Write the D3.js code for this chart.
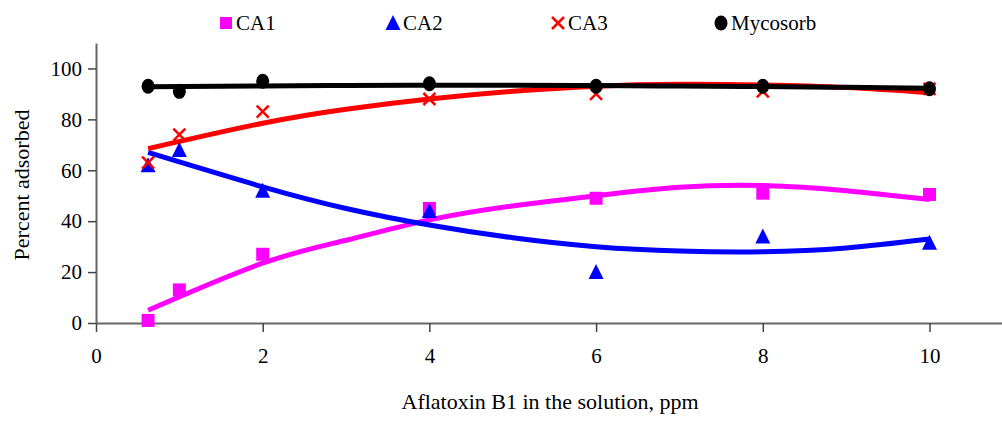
<!DOCTYPE html>
<html>
<head>
<meta charset="utf-8">
<script src="https://cdn.jsdelivr.net/npm/d3@7"></script>
<style>
  body { margin: 0; background: #fff; }
</style>
</head>
<body>
<div id="chart-area"></div>
<script>
const WIDTH = 1002
const HEIGHT = 423
const MARGIN = {LEFT: 96, RIGHT: 0, TOP: 43, BOTTOM: 100}
const FONT = "'Liberation Serif', 'Times New Roman', Times, 'DejaVu Serif', serif"

// measured points
const doses = [0.625, 1, 2, 4, 6, 8, 10]
const ca1 = [1, 13, 27, 45, 49, 51, 50.5]
const ca2 = [62, 68, 52, 44, 20, 34, 31.5]
const ca3 = [63, 74, 83, 88, 90, 91, 92]
const mycosorb = [93, 91, 95, 94, 93, 93, 92]

// trend lines
const trendX = [0.625, 2, 3, 4, 5, 6, 7, 8, 9, 10]
const ca1Trend = [5, 23.5, 32.5, 40.5, 46, 50, 53.3, 54, 52, 48.5]
const ca2Trend = [67, 53.5, 45, 38.5, 33.5, 30, 28.3, 28, 29.5, 33]
const ca3Trend = [68.5, 78.5, 84, 88, 91, 93, 93.8, 93.5, 92.5, 90.5]
const mycoTrend = [92.8, 93.1, 93.3, 93.4, 93.4, 93.3, 93.1, 92.9, 92.6, 92.2]

const xTicks = [0, 2, 4, 6, 8, 10]
const yTicks = [0, 20, 40, 60, 80, 100]

const series = [
  {name: "CA1", values: ca1, trend: ca1Trend, color: "#ff00ff", shape: "square"},
  {name: "CA2", values: ca2, trend: ca2Trend, color: "#0000ff", shape: "triangle"},
  {name: "CA3", values: ca3, trend: ca3Trend, color: "#ff0000", shape: "cross"},
  {name: "Mycosorb", values: mycosorb, trend: mycoTrend, color: "#000000", shape: "circle"}
]

const svg = d3.select("#chart-area").append("svg")
  .attr("width", WIDTH)
  .attr("height", HEIGHT)
  .style("font-family", FONT)

const x = d3.scaleLinear()
  .domain([0, 10.87])
  .range([MARGIN.LEFT, WIDTH])

const y = d3.scaleLinear()
  .domain([0, 110])
  .range([323, MARGIN.TOP])

// axes
const xAxisCall = d3.axisBottom(x).tickValues(xTicks).tickSize(9).tickPadding(16).tickSizeOuter(0)
svg.append("g")
  .attr("transform", `translate(0, ${y(0)})`)
  .call(xAxisCall)

const yAxisCall = d3.axisLeft(y).tickValues(yTicks).tickSize(8).tickPadding(6).tickSizeOuter(0)
svg.append("g")
  .attr("transform", `translate(${MARGIN.LEFT}, 0)`)
  .call(yAxisCall)

svg.selectAll(".domain").attr("stroke", "#666").attr("stroke-width", 2)
svg.selectAll(".tick line").attr("stroke", "#444").attr("stroke-width", 1.5)
svg.selectAll(".tick text")
  .attr("font-size", "21px")
  .style("font-family", FONT)
  .attr("fill", "#000")

// trend lines
const line = d3.line()
  .x((d, i) => x(trendX[i]))
  .y(d => y(d))
  .curve(d3.curveNatural)

svg.selectAll(".trend")
  .data(series)
  .enter().append("path")
  .attr("class", "trend")
  .attr("fill", "none")
  .attr("stroke", d => d.color)
  .attr("stroke-width", 5)
  .attr("d", d => line(d.trend))

function drawMarker(sel, shape, color) {
  if (shape === "square") {
    sel.append("rect").attr("x", -6.5).attr("y", -6.5).attr("width", 13).attr("height", 13).attr("fill", color)
  } else if (shape === "triangle") {
    sel.append("path").attr("d", "M0,-8 L7.5,7 L-7.5,7 Z").attr("fill", color)
  } else if (shape === "cross") {
    sel.append("path").attr("d", "M-6,-6 L6,6 M6,-6 L-6,6").attr("stroke", color).attr("stroke-width", 2.5)
  } else {
    sel.append("ellipse").attr("rx", 6.5).attr("ry", 7.5).attr("fill", color)
  }
}

series.forEach(s => {
  const pts = svg.append("g").selectAll("g")
    .data(s.values)
    .enter().append("g")
    .attr("transform", (d, i) => `translate(${x(doses[i])}, ${y(d)})`)
  drawMarker(pts, s.shape, s.color)
})

// legend
const legendX = [226, 393, 558, 721]
series.forEach((s, i) => {
  const lg = svg.append("g").attr("transform", `translate(${legendX[i]}, 23)`)
  drawMarker(lg, s.shape, s.color)
  lg.select("rect").attr("x", -6).attr("y", -6).attr("width", 12).attr("height", 12)
  lg.append("text")
    .attr("x", 10)
    .attr("y", 7)
    .attr("font-size", "21px")
    .style("font-family", FONT)
    .text(s.name)
})

// axis titles
svg.append("text")
  .attr("x", 550)
  .attr("y", 409)
  .attr("font-size", "22px")
  .attr("text-anchor", "middle")
  .style("font-family", FONT)
  .text("Aflatoxin B1 in the solution, ppm")

svg.append("text")
  .attr("transform", "rotate(-90)")
  .attr("x", -185)
  .attr("y", 29)
  .attr("font-size", "22px")
  .attr("text-anchor", "middle")
  .style("font-family", FONT)
  .text("Percent adsorbed")
</script>
</body>
</html>
